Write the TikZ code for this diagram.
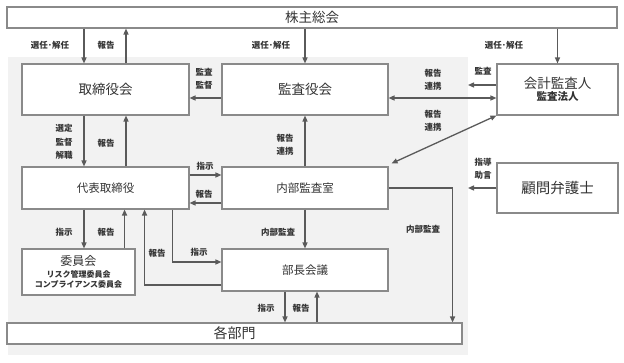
\documentclass[tikz,border=0pt]{standalone}
\usepackage{fontspec}
\setmainfont{Noto Sans CJK JP}
\usetikzlibrary{arrows.meta,positioning}
\definecolor{lgray}{HTML}{F2F2F2}
\definecolor{bline}{HTML}{8A8A8A}
\definecolor{aline}{HTML}{5A5A5A}
\definecolor{txt}{HTML}{333333}

\begin{document}
\begin{tikzpicture}[x=1pt,y=-1pt,
  font=\fontsize{8.5}{13.5}\selectfont,text=txt,
  box/.style={draw=bline,line width=1.1pt,fill=white,inner sep=0pt,align=center},
  big/.style={font=\fontsize{13.5}{16}\selectfont},
  mid/.style={font=\fontsize{11.5}{14}\selectfont},
  arr/.style={-{Triangle[length=6pt,width=5pt]},draw=aline,line width=1.3pt},
  lbl/.style={inner sep=0pt,align=center,font=\fontsize{8.5}{13.5}\selectfont\bfseries}]
\useasboundingbox (0,0) rectangle (624,363);
\fill[lgray] (8,57) rectangle (468,355);
\node[box,big,minimum width=610pt,minimum height=21pt] (kabu) at (312,17.5) {株主総会};
\node[box,big,minimum width=167pt,minimum height=51pt] (tori) at (105.5,89.5) {取締役会};
\node[box,big,minimum width=166pt,minimum height=51pt] (kansa) at (305,89.5) {監査役会};
\node[box,minimum width=121pt,minimum height=51pt] (kaikei) at (557.5,89.5)
  {{\fontsize{13.5}{16}\selectfont 会計監査人}\\[-1pt]{\fontsize{10.5}{12}\selectfont\bfseries 監査法人}};
\node[box,mid,minimum width=167pt,minimum height=42pt] (daihyo) at (105.5,188) {代表取締役};
\node[box,mid,minimum width=166pt,minimum height=42pt] (naibu) at (305,188) {内部監査室};
\node[box,minimum width=121pt,minimum height=50pt,font=\fontsize{14.5}{17}\selectfont] (komon) at (557.5,188) {顧問弁護士};
\node[box,minimum width=113pt,minimum height=46pt,font=\fontsize{8}{10.5}\selectfont\bfseries] (iinkai) at (78.5,272)
  {{\fontsize{12}{14}\selectfont\mdseries 委員会}\\[1pt]リスク管理委員会\\コンプライアンス委員会};
\node[box,mid,minimum width=166pt,minimum height=42pt] (bucho) at (305,270) {部長会議};
\node[box,font=\fontsize{14}{16}\selectfont,minimum width=455pt,minimum height=21pt] (kakubu) at (234.5,333.5) {各部門};
\coordinate (aud) at (468,85);
\coordinate (adv) at (468,188);
\draw[arr] ([xshift=-21.5pt]tori.north |- kabu.south) -- ([xshift=-21.5pt]tori.north);
\draw[arr] ([xshift=20.5pt]tori.north) -- ([xshift=20.5pt]tori.north |- kabu.south);
\draw[arr] (kabu.south -| kansa) -- (kansa.north);
\draw[arr] (kabu.south -| kaikei) -- (kaikei.north);
\draw[arr] ([yshift=-8.5pt]kansa.west) -- ([yshift=-8.5pt]kansa.west -| tori.east);
\draw[arr,{Triangle[length=6pt,width=5pt]}-{Triangle[length=6pt,width=5pt]}] ([yshift=-8.5pt]kansa.east) -- ([yshift=-8.5pt]kansa.east -| kaikei.west);
\draw[arr] (kaikei.west |- aud) -- (aud);
\draw[arr,{Triangle[length=6pt,width=5pt]}-{Triangle[length=6pt,width=5pt]}] ([shift={(3pt,3pt)}]naibu.north east) -- (kaikei.south west);
\draw[arr] ([xshift=-21.5pt]tori.south) -- ([xshift=-21.5pt]daihyo.north);
\draw[arr] ([xshift=20.5pt]daihyo.north) -- ([xshift=20.5pt]tori.south);
\draw[arr] (naibu.north) -- (kansa.south);
\draw[arr] ([yshift=13pt]daihyo.east) -- ([yshift=13pt]naibu.west);
\draw[arr] ([yshift=-15pt]naibu.west) -- ([yshift=-15pt]daihyo.east);
\draw[arr] (komon.west) -- (adv);
\draw[arr] (naibu.east) -| ([xshift=-10pt]kakubu.north east);
\draw[arr] (naibu.south) -- (bucho.north);
\draw[arr] ([xshift=-21.5pt]daihyo.south) -- ([xshift=-21.5pt]daihyo.south |- iinkai.north);
\draw[arr] ([xshift=-11pt]iinkai.north east) -- ([xshift=-11pt]iinkai.north east |- daihyo.south);
\draw[arr] ([xshift=-17pt]daihyo.south east) |- ([yshift=8pt]bucho.west);
\draw[arr] ([yshift=-15pt]bucho.west) -| ([xshift=-45pt]daihyo.south east);
\draw[arr] ([xshift=-20pt]bucho.south) -- ([xshift=-20pt]bucho.south |- kakubu.north);
\draw[arr] ([xshift=12pt]kakubu.north -| bucho) -- ([xshift=12pt]bucho.south);
\node[lbl] (l1) at (50,45) {選任･解任};
\node[lbl] (l2) at (106,45) {報告};
\node[lbl] (l3) at (271,45) {選任･解任};
\node[lbl] (l4) at (504,45) {選任･解任};
\node[lbl] (l5) at (204,79) {監査\\監督};
\node[lbl] (l6) at (433,80) {報告\\連携};
\node[lbl] (l7) at (483,71) {監査};
\node[lbl] (l8) at (433,121) {報告\\連携};
\node[lbl] (l9) at (64,142) {選定\\監督\\解職};
\node[lbl] (l10) at (106,143) {報告};
\node[lbl] (l11) at (285,145) {報告\\連携};
\node[lbl] (l12) at (205,166) {指示};
\node[lbl] (l13) at (204,194) {報告};
\node[lbl] (l14) at (483,169) {指導\\助言};
\node[lbl] (l15) at (423,229) {内部監査};
\node[lbl] (l16) at (278,232) {内部監査};
\node[lbl] (l17) at (64,232) {指示};
\node[lbl] (l18) at (106,232) {報告};
\node[lbl] (l19) at (157,253) {報告};
\node[lbl] (l20) at (199,252) {指示};
\node[lbl] (l21) at (266,308) {指示};
\node[lbl] (l22) at (301,308) {報告};
\end{tikzpicture}
\end{document}
